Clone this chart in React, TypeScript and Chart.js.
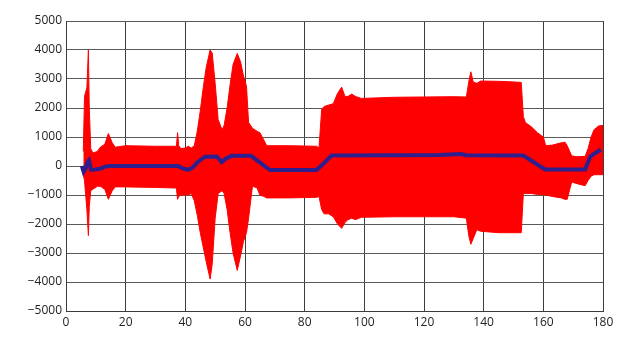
import React, { useEffect, useRef } from "react";
import { Chart, registerables } from "chart.js";

Chart.register(...registerables);

// Envelope of the red signal (shared x positions)
const envX = [
  5.8, 6.2, 7.0, 7.5, 7.8, 8.3, 9, 10.5, 11.5, 13, 14.2, 15.5, 16.5, 20, 30, 37, 37.4, 37.8, 38.5, 40,
  41, 42, 43, 44, 45, 46, 47, 48.3, 49, 50, 51, 52.3, 53, 54, 55, 56, 57.4, 58.5, 59.5, 60.5,
  61.2, 62.5, 64, 65, 66.3, 67.3, 75, 84, 84.8, 85.7, 86.5, 88, 89.6, 91, 92.4, 93.5, 94.5, 95.8, 97, 99,
  110, 120, 130, 134.2, 135, 135.7, 136.5, 137.7, 139, 145, 150, 152.6, 153.3, 154, 156, 158, 160, 160.8, 163, 166,
  167.3, 168, 169.5, 171, 174, 175, 176, 177, 178.5, 180,
];
const envUpper = [
  500, 2400, 2700, 4000, 2000, 600, 450, 500, 650, 750, 1120, 800, 650, 700, 680, 680, 1150, 700, 600, 620,
  680, 620, 700, 1200, 1900, 2700, 3400, 4000, 3900, 2850, 1600, 1250, 1400, 2000, 2800, 3500, 3880, 3600, 3100, 2750,
  1500, 1300, 1200, 1150, 900, 700, 700, 680, 620, 1950, 2050, 2100, 2150, 2500, 2720, 2400, 2400, 2480, 2400, 2330,
  2370, 2380, 2390, 2380, 2900, 3250, 2900, 2850, 2930, 2920, 2900, 2880, 1700, 1500, 1350, 1150, 1000, 700, 720, 800,
  820, 700, 350, 320, 330, 600, 1000, 1250, 1380, 1400,
];
const envLower = [
  -300, -500, -1500, -2400, -1400, -850, -800, -700, -700, -800, -1150, -850, -720, -720, -740, -760, -1150, -1050, -1000, -1000,
  -1000, -950, -1200, -1700, -2300, -2800, -3300, -3900, -3400, -1800, -950, -850, -950, -1500, -2300, -3000, -3600, -3100, -2600, -2300,
  -1800, -700, -750, -1000, -1050, -1100, -1100, -1080, -1050, -1500, -1650, -1650, -1750, -2000, -2150, -1950, -1850, -1800, -1850, -1770,
  -1750, -1750, -1750, -1800, -2400, -2700, -2500, -2200, -2250, -2300, -2300, -2300, -950, -950, -950, -980, -1000, -1000, -1050, -1100,
  -1150, -1150, -550, -600, -680, -500, -350, -300, -300, -300,
];

// Mean (blue line)
const meanX = [
  5.3, 5.9, 6.5, 7.3, 7.7, 8.4, 10, 12, 13, 14.7, 37.6, 39, 41, 42.5, 44, 46.6, 50.5, 51.2, 52.2, 53.5,
  55.5, 62, 68.4, 84, 86, 89, 110, 125, 132.6, 134, 153.3, 160.6, 174, 175.7, 177, 179.3,
];
const meanY = [
  0, -200, -100, 150, 200, -130, -120, -80, -20, 0, 0, -80, -130, -50, 120, 320, 330, 250, 130, 250,
  350, 350, -140, -140, 50, 360, 370, 380, 410, 370, 360, -120, -120, 320, 420, 570,
];

const xTicks = [0, 20, 40, 60, 80, 100, 120, 140, 160, 180];
const yTicks = [-5000, -4000, -3000, -2000, -1000, 0, 1000, 2000, 3000, 4000, 5000];

export default function App() {
  const ref = useRef<HTMLCanvasElement | null>(null);
  useEffect(() => {
    document.body.style.margin = "0";
    const ctx = ref.current!;
    const pts = (xs: number[], ys: number[]) => xs.map((x, i) => ({ x, y: ys[i] }));
    const font = { family: "'Open Sans', sans-serif", size: 12 };
    const chart = new Chart(ctx, {
      type: "scatter",
      data: {
        datasets: [
          {
            data: pts(meanX, meanY),
            showLine: true,
            borderColor: "#2e1f8f",
            borderWidth: 4,
            pointRadius: 0,
            fill: false,
            tension: 0,
          },
          {
            data: pts(envX, envUpper),
            showLine: true,
            borderColor: "#ff0000",
            borderWidth: 1,
            pointRadius: 0,
            fill: false,
          },
          {
            data: pts(envX, envLower),
            showLine: true,
            borderColor: "#ff0000",
            borderWidth: 1,
            pointRadius: 0,
            backgroundColor: "#ff0000",
            fill: 1,
          },
        ],
      },
      options: {
        animation: false,
        responsive: false,
        maintainAspectRatio: false,
        layout: { padding: { top: 21, right: 41, left: 0, bottom: 0 } },
        plugins: { legend: { display: false }, tooltip: { enabled: false } },
        scales: {
          x: {
            type: "linear",
            min: 0,
            max: 180,
            afterBuildTicks: (s: any) => {
              s.ticks = xTicks.map((v) => ({ value: v }));
            },
            afterFit: (s: any) => {
              s.height = 35;
            },
            ticks: { color: "#222", font, padding: 4, maxRotation: 0 },
            grid: { color: "#3c3c3c", lineWidth: 1, drawTicks: false },
            border: { display: true, color: "#3c3c3c" },
          },
          y: {
            type: "linear",
            min: -5000,
            max: 5000,
            afterBuildTicks: (s: any) => {
              s.ticks = yTicks.map((v) => ({ value: v }));
            },
            afterFit: (s: any) => {
              s.width = 66;
            },
            ticks: {
              color: "#222",
              font,
              padding: 4,
              callback: (v: any) => String(v).replace("-", "\u2212"),
            },
            grid: { color: "#5a5a5a", lineWidth: 1, drawTicks: false },
            border: { display: true, color: "#3c3c3c" },
          },
        },
      },
    });
    return () => chart.destroy();
  }, []);
  return (
    <div style={{ width: 644, height: 346 }}>
      <canvas ref={ref} width={644} height={346} style={{ width: 644, height: 346, display: "block" }} />
    </div>
  );
}
